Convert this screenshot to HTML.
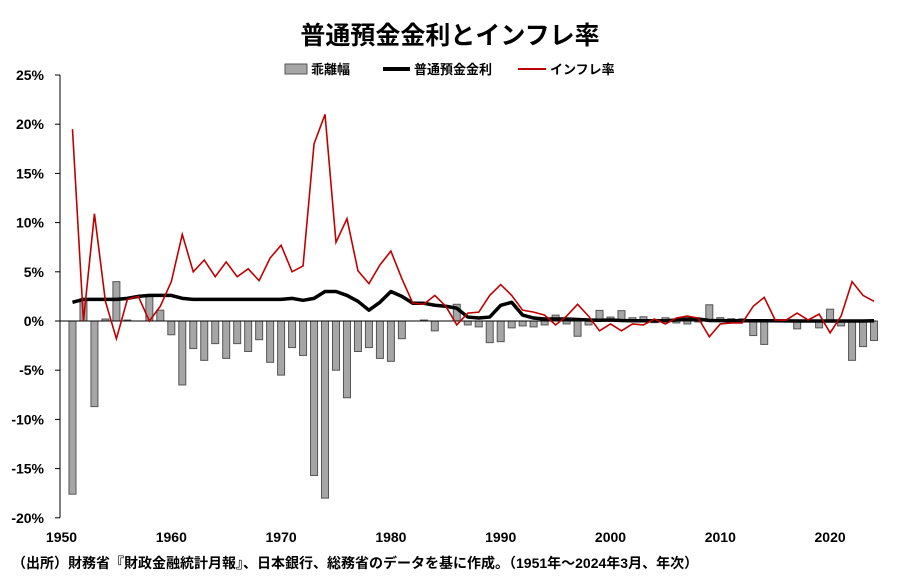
<!DOCTYPE html><html><head><meta charset="utf-8"><style>body{margin:0;background:#fff}svg{display:block;font-family:"Liberation Sans","Noto Sans CJK JP",sans-serif}</style></head><body>
<svg id="s" width="900" height="587" viewBox="0 0 900 587"></svg>
<script>
const inf=[19.5,0,10.9,2,-1.8,2.2,2.5,0,1.5,4,8.8,5,6.2,4.5,6,4.5,5.3,4.1,6.4,7.7,5,5.6,18,21,8,10.4,5.1,3.8,5.7,7.1,4.3,1.8,1.7,2.6,1.5,-0.4,0.8,0.9,2.6,3.7,2.6,1.1,0.9,0.6,-0.4,0.5,1.7,0.5,-1,-0.3,-1,-0.3,-0.4,0.2,-0.3,0.3,0.5,0.3,-1.6,-0.3,-0.2,-0.2,1.5,2.4,0.1,0.1,0.8,0.1,0.7,-1.2,0.5,4,2.6,2.0];
const rate=[1.9,2.2,2.2,2.2,2.2,2.3,2.5,2.6,2.6,2.6,2.3,2.2,2.2,2.2,2.2,2.2,2.2,2.2,2.2,2.2,2.3,2.1,2.3,3.0,3.0,2.6,2.0,1.1,1.9,3.0,2.5,1.8,1.8,1.6,1.5,1.3,0.4,0.3,0.4,1.6,1.9,0.6,0.3,0.2,0.2,0.2,0.15,0.1,0.08,0.1,0.05,0.03,0.03,0.03,0.03,0.1,0.2,0.2,0.05,0.04,0.03,0.02,0.02,0.02,0.02,0.01,0.001,0.001,0.001,0.001,0.001,0.001,0.001,0.02];
const X=y=>61.5+(y-1950)*10.98, Y=v=>321-v*9.84;
let h='<text x="450" y="44" text-anchor="middle" font-size="25" font-weight="bold">普通預金金利とインフレ率</text>';
h+='<rect x="285" y="64" width="22" height="10" fill="#a6a6a6" stroke="#555"/><text x="311" y="74" font-size="13" font-weight="bold">乖離幅</text>';
h+='<line x1="383" y1="69" x2="410" y2="69" stroke="#000" stroke-width="4"/><text x="414" y="74" font-size="13" font-weight="bold">普通預金金利</text>';
h+='<line x1="518" y1="69" x2="546" y2="69" stroke="#c00000" stroke-width="2"/><text x="550" y="74" font-size="13" font-weight="bold">インフレ率</text>';
for(let v=25;v>=-20;v-=5){const y=Y(v);h+=`<line x1="55" y1="${y}" x2="60" y2="${y}" stroke="#000"/><text x="44" y="${y+5}" text-anchor="end" font-size="14" font-weight="bold">${v}%</text>`;}
h+=`<line x1="60" y1="${Y(25)}" x2="60" y2="${Y(-20)}" stroke="#000"/>`;
for(let y=1950;y<=2020;y+=10)h+=`<text x="${X(y)}" y="542" text-anchor="middle" font-size="14" font-weight="bold">${y}</text>`;
for(let i=0;i<inf.length;i++){const g=rate[i]-inf[i];const x=X(1951+i)-3.5;const y0=Math.min(Y(0),Y(g));h+=`<rect x="${x}" y="${y0}" width="7" height="${Math.abs(g*9.84)}" fill="#a6a6a6" stroke="#555" stroke-width="1"/>`;}
h+=`<line x1="60" y1="${Y(0)}" x2="876" y2="${Y(0)}" stroke="#000"/>`;
h+=`<polyline fill="none" stroke="#000" stroke-width="3.5" stroke-linejoin="round" points="${rate.map((v,i)=>X(1951+i)+','+Y(v)).join(' ')}"/>`;
h+=`<polyline fill="none" stroke="#c00000" stroke-width="1.6" points="${inf.map((v,i)=>X(1951+i)+','+Y(v)).join(' ')}"/>`;
h+='<text x="12" y="568" font-size="14" font-weight="bold">（出所）財務省『財政金融統計月報』、日本銀行、総務省のデータを基に作成。（1951年～2024年3月、年次）</text>';
document.getElementById('s').innerHTML=h;
</script></body></html>
